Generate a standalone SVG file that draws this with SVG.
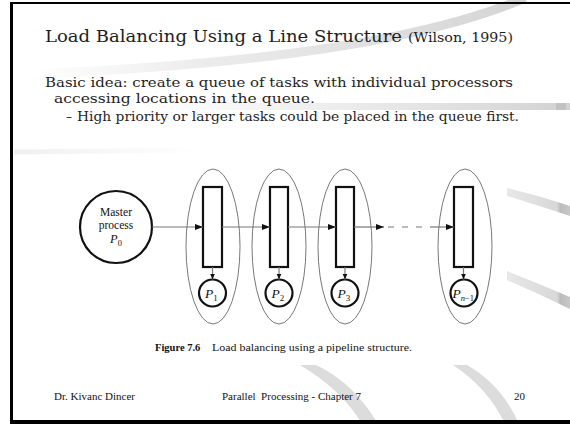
<svg xmlns="http://www.w3.org/2000/svg" width="570" height="424" viewBox="0 0 570 424">
<defs>
<style>
.title{font-family:"DejaVu Serif","Liberation Serif",serif;fill:#1e1e1e}
.body{font-family:"DejaVu Serif","Liberation Serif",serif;fill:#1e1e1e}
.tm{font-family:"Liberation Serif","Times New Roman",serif;fill:#111}
.queue{fill:#fff;stroke:#111;stroke-width:2.2}
.proc{fill:#fff;stroke:#111;stroke-width:2.2}
.group{fill:none;stroke:#555;stroke-width:0.8}
.conn{fill:none;stroke:#777;stroke-width:1.2}
</style>
<marker id="ah" markerUnits="userSpaceOnUse" markerWidth="9" markerHeight="7" refX="8" refY="3" orient="auto">
<path d="M0,0 L8,3 L0,6 z" fill="#111"/>
</marker>
<marker id="ahs" markerUnits="userSpaceOnUse" markerWidth="7" markerHeight="6" refX="6" refY="2.5" orient="auto">
<path d="M0,0 L6,2.5 L0,5 z" fill="#111"/>
</marker>
<linearGradient id="gTop" gradientUnits="userSpaceOnUse" x1="30" y1="0" x2="530" y2="0">
<stop offset="0" stop-color="#fff"/>
<stop offset="0.35" stop-color="#ececec"/>
<stop offset="1" stop-color="#d4d4d4"/>
</linearGradient>
<linearGradient id="gBar" gradientUnits="userSpaceOnUse" x1="150" y1="0" x2="570" y2="0">
<stop offset="0" stop-color="#fff"/>
<stop offset="0.6" stop-color="#e6e6e6"/>
<stop offset="1" stop-color="#d2d2d2"/>
</linearGradient>
<linearGradient id="gSide" gradientUnits="userSpaceOnUse" x1="505" y1="0" x2="570" y2="0">
<stop offset="0" stop-color="#e8e8e8"/>
<stop offset="0.8" stop-color="#d8d8d8"/>
<stop offset="0.85" stop-color="#bcbcbc"/>
<stop offset="1" stop-color="#c8c8c8"/>
</linearGradient>
<linearGradient id="gLeft" gradientUnits="userSpaceOnUse" x1="14" y1="0" x2="200" y2="0">
<stop offset="0" stop-color="#f0f0f0"/>
<stop offset="1" stop-color="#fff"/>
</linearGradient>
</defs>
<rect x="0" y="0" width="570" height="424" fill="#fff"/>
<g id="decor">
<path d="M 30 74 Q 380 60 525 -2" fill="none" stroke="url(#gTop)" stroke-width="9"/>
<rect x="150" y="103" width="420" height="7" fill="url(#gBar)"/>
<rect x="556" y="103" width="10" height="7" fill="#c2c2c2"/>
<path d="M 14 152 L 200 150" stroke="url(#gLeft)" stroke-width="5" fill="none"/>
<path d="M 507 188 Q 540 196 570 206 L 570 216 Q 540 206 507 196 Z" fill="url(#gSide)"/>
<path d="M 507 271 Q 540 284 570 297 L 570 309 Q 540 294 507 280 Z" fill="url(#gSide)"/>
<path d="M 300 365 Q 342 390 362 424 L 378 424 Q 354 383 316 365 Z" fill="#dcdcdc"/>
<path d="M 453 365 Q 488 388 505 424 L 519 424 Q 502 385 467 365 Z" fill="#dcdcdc"/>
</g>
<g id="frame" stroke="#000" fill="none">
<line x1="10" y1="3" x2="570" y2="3" stroke-width="2"/>
<line x1="11.5" y1="2" x2="11.5" y2="424" stroke-width="3"/>
<line x1="10" y1="422" x2="570" y2="422" stroke-width="4"/>
</g>
<g id="slide-text">
<text class="title" x="45" y="42" font-size="17" textLength="357" lengthAdjust="spacingAndGlyphs">Load Balancing Using a Line Structure</text>
<text class="title" x="408" y="42" font-size="12.5" textLength="105" lengthAdjust="spacingAndGlyphs">(Wilson, 1995)</text>
<text class="body" x="45" y="87" font-size="13.5" textLength="468" lengthAdjust="spacingAndGlyphs">Basic idea: create a queue of tasks with individual processors</text>
<text class="body" x="54" y="103" font-size="13.5" textLength="261" lengthAdjust="spacingAndGlyphs">accessing locations in the queue.</text>
<text class="body" x="66" y="121" font-size="12">–</text>
<text class="body" x="77" y="121" font-size="12" textLength="442" lengthAdjust="spacingAndGlyphs">High priority or larger tasks could be placed in the queue first.</text>
</g>
<g id="master">
<circle cx="116" cy="227" r="36" class="proc"/>
<text class="tm" x="116" y="216" font-size="11.5" text-anchor="middle">Master</text>
<text class="tm" x="116" y="229" font-size="11.5" text-anchor="middle">process</text>
<text class="tm" x="110" y="243" font-size="12.5"><tspan font-style="italic">P</tspan><tspan font-size="8.5" dy="2.5">0</tspan></text>
</g>
<g id="stage1">
<ellipse cx="213" cy="246.5" rx="27" ry="77.5" class="group"/>
<rect x="203" y="187" width="19" height="80" class="queue"/>
<circle cx="212.5" cy="293" r="13.5" class="proc"/>
<text class="tm" x="205" y="298" font-size="13.5"><tspan font-style="italic">P</tspan><tspan font-size="9" dy="3">1</tspan></text>
</g>
<g id="stage2">
<ellipse cx="279" cy="246.5" rx="27" ry="77.5" class="group"/>
<rect x="270" y="187" width="18" height="80" class="queue"/>
<circle cx="279" cy="293" r="13.5" class="proc"/>
<text class="tm" x="271.5" y="298" font-size="13.5"><tspan font-style="italic">P</tspan><tspan font-size="9" dy="3">2</tspan></text>
</g>
<g id="stage3">
<ellipse cx="345" cy="246.5" rx="27" ry="77.5" class="group"/>
<rect x="336" y="187" width="18" height="80" class="queue"/>
<circle cx="345" cy="293" r="13.5" class="proc"/>
<text class="tm" x="337.5" y="298" font-size="13.5"><tspan font-style="italic">P</tspan><tspan font-size="9" dy="3">3</tspan></text>
</g>
<g id="stage4">
<ellipse cx="465" cy="246.5" rx="27" ry="77.5" class="group"/>
<rect x="454" y="187" width="19" height="80" class="queue"/>
<circle cx="464" cy="293" r="13.5" class="proc"/>
<text class="tm" x="452.5" y="298" font-size="13.5"><tspan font-style="italic">P</tspan><tspan font-size="8.5" dy="3" font-style="italic">n</tspan><tspan font-size="8.5">−1</tspan></text>
</g>
<g id="connectors">
<path class="conn" d="M152 227 H203" marker-end="url(#ah)"/>
<path class="conn" d="M222 227 H270" marker-end="url(#ah)"/>
<path class="conn" d="M288 227 H336" marker-end="url(#ah)"/>
<path class="conn" d="M354 227 H384" marker-end="url(#ah)"/>
<path class="conn" d="M388 227 H430" stroke-dasharray="6 8"/>
<path class="conn" d="M430 227 H454" marker-end="url(#ah)"/>
<path class="conn" d="M212.5 267 V279.5" marker-end="url(#ahs)"/>
<path class="conn" d="M279 267 V279.5" marker-end="url(#ahs)"/>
<path class="conn" d="M345 267 V279.5" marker-end="url(#ahs)"/>
<path class="conn" d="M463.5 267 V279.5" marker-end="url(#ahs)"/>
</g>
<g id="caption">
<text class="tm" x="155" y="351" font-size="10.5" font-weight="bold">Figure 7.6</text>
<text class="tm" x="212" y="351" font-size="10.5" textLength="200" lengthAdjust="spacingAndGlyphs">Load balancing using a pipeline structure.</text>
</g>
<g id="footer">
<text class="tm" x="54" y="400" font-size="11">Dr. Kivanc Dincer</text>
<text class="tm" x="222" y="400" font-size="11" xml:space="preserve">Parallel  Processing - Chapter 7</text>
<text class="tm" x="514" y="400" font-size="11">20</text>
</g>
</svg>
